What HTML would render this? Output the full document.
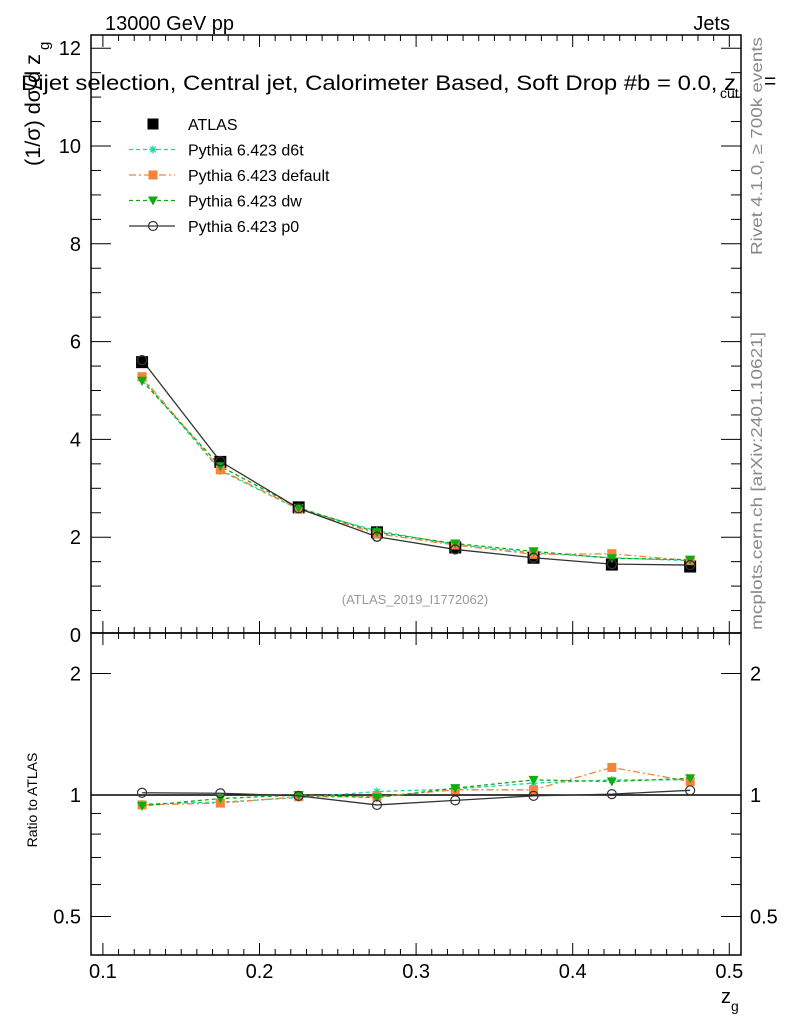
<!DOCTYPE html>
<html><head><meta charset="utf-8"><style>
html,body{margin:0;padding:0;background:#fff;}
svg{display:block;font-family:"Liberation Sans",Arial,sans-serif;}
</style></head><body>
<svg id="chart" width="786" height="1024" viewBox="0 0 786 1024" xmlns="http://www.w3.org/2000/svg">
<text x="105" y="30" font-size="20">13000 GeV pp</text>
<text x="730" y="30" font-size="20" text-anchor="end">Jets</text>
<text x="21" y="90" font-size="21" textLength="715" lengthAdjust="spacingAndGlyphs">Dijet selection, Central jet, Calorimeter Based, Soft Drop #b = 0.0, z</text>
<text x="720" y="98" font-size="14">cut</text>
<text x="764" y="88" font-size="21">=</text>
<text transform="translate(40,166) rotate(-90)" font-size="21" textLength="112" lengthAdjust="spacingAndGlyphs">(1/σ) dσ/d z</text>
<text transform="translate(49,50) rotate(-90)" font-size="15">g</text>
<text transform="translate(37,800) rotate(-90)" font-size="14" text-anchor="middle">Ratio to ATLAS</text>
<text transform="translate(762,255) rotate(-90)" font-size="16" fill="#888" textLength="218" lengthAdjust="spacingAndGlyphs">Rivet 4.1.0, ≥ 700k events</text>
<text transform="translate(762,630) rotate(-90)" font-size="16" fill="#888" textLength="298" lengthAdjust="spacingAndGlyphs">mcplots.cern.ch [arXiv:2401.10621]</text>
<text x="415" y="604" font-size="13" fill="#999" text-anchor="middle">(ATLAS_2019_I1772062)</text>
<text x="721" y="1003" font-size="20">z<tspan font-size="14" dy="8">g</tspan></text>
<g id="main"></g>
<g id="ratio"></g>
<g id="legend"></g>
</svg>
<script>
const xCenters=[0.125,0.175,0.225,0.275,0.325,0.375,0.425,0.475];
const xTicks=[0.1,0.2,0.3,0.4,0.5];
const yTicks=[0,2,4,6,8,10,12];
const rTicks=[0.5,1,2];
const atlas=[5.58,3.54,2.61,2.1,1.79,1.58,1.44,1.40];
const p0=[5.62,3.55,2.59,2.01,1.75,1.58,1.45,1.43];
const pdef=[5.28,3.38,2.58,2.07,1.84,1.65,1.66,1.52];
const pd6t=[5.25,3.36,2.57,2.13,1.85,1.68,1.58,1.52];
const pdw=[5.2,3.45,2.6,2.1,1.87,1.71,1.57,1.54];
const rp0=[1.013,1.01,0.995,0.945,0.97,0.995,1.005,1.027];
const rdef=[0.945,0.955,0.99,0.99,1.03,1.03,1.17,1.08];
const rd6t=[0.95,0.96,0.985,1.02,1.035,1.07,1.09,1.09];
const rdw=[0.94,0.98,1.0,0.985,1.04,1.09,1.08,1.1];
const legendNames=["ATLAS","Pythia 6.423 d6t","Pythia 6.423 default","Pythia 6.423 dw","Pythia 6.423 p0"];

const NS="http://www.w3.org/2000/svg";
const L=91,R=741,T=35,MB=633,RB=955;
const X=v=>102.9+(v-0.1)*1566;
const Y=v=>635-v*48.9;
const YR=v=>795-Math.log10(v)*403.6;
function mk(p,t,a){const e=document.createElementNS(NS,t);for(const k in a)e.setAttribute(k,a[k]);p.appendChild(e);return e;}
const main=document.getElementById('main'),ratio=document.getElementById('ratio'),leg=document.getElementById('legend');

function frame(g,top,bot,name){
  const r=mk(g,'rect',{x:L,y:top,width:R-L,height:bot-top,fill:'none',stroke:'#000','stroke-width':1.5});
  
  
  for(let v=0.1;v<=0.5001;v+=0.01){const x=X(v);const maj=Math.abs(v*10-Math.round(v*10))<1e-6;const len=maj?12:6;
    mk(g,'line',{x1:x,x2:x,y1:bot,y2:bot-len,stroke:'#000','stroke-width':1});
    mk(g,'line',{x1:x,x2:x,y1:top,y2:top+len,stroke:'#000','stroke-width':1});}
}
frame(main,T,MB,'main-frame');frame(ratio,MB,RB,'ratio-frame');
for(let v=0;v<=12.2;v+=0.5){const y=Y(v);if(y<T||y>MB)continue;const maj=Math.abs(v/2-Math.round(v/2))<1e-6;const len=maj?20:10;
  mk(main,'line',{x1:L,x2:L+len,y1:y,y2:y,stroke:'#000'});mk(main,'line',{x1:R,x2:R-len,y1:y,y2:y,stroke:'#000'});}
yTicks.forEach(v=>{const t=mk(main,'text',{x:81,y:Y(v)+7,'font-size':20,'text-anchor':'end'});t.textContent=v;
  
  });
[0.5,0.6,0.7,0.8,0.9,1,2].forEach(v=>{const y=YR(v);const maj=rTicks.includes(v);const len=maj?20:10;
  mk(ratio,'line',{x1:L,x2:L+len,y1:y,y2:y,stroke:'#000'});mk(ratio,'line',{x1:R,x2:R-len,y1:y,y2:y,stroke:'#000'});});
rTicks.forEach(v=>{const t=mk(ratio,'text',{x:81,y:YR(v)+7,'font-size':20,'text-anchor':'end'});t.textContent=v;
  
  
  const t2=mk(ratio,'text',{x:750,y:YR(v)+7,'font-size':20});t2.textContent=v;
  
  });
xTicks.forEach(v=>{const t=mk(ratio,'text',{x:X(v),y:978,'font-size':20,'text-anchor':'middle'});t.textContent=v.toFixed(1);
  
  });
mk(ratio,'line',{x1:L,x2:R,y1:YR(1),y2:YR(1),stroke:'#000','stroke-width':1.5});

function marker(g,type,x,y,col){
  if(type==='sq')mk(g,'rect',{x:x-5.5,y:y-5.5,width:11,height:11,fill:col});
  else if(type==='osq')mk(g,'rect',{x:x-4.5,y:y-4.5,width:9,height:9,fill:col});
  else if(type==='tri')mk(g,'path',{d:`M${x-5},${y-4}L${x+5},${y-4}L${x},${y+5}Z`,fill:col});
  else if(type==='circ')mk(g,'circle',{cx:x,cy:y,r:4.5,fill:'none',stroke:col,'stroke-width':1.2});
  else if(type==='star'){for(let a=0;a<4;a++){const an=a*Math.PI/4;mk(g,'line',{x1:x-4*Math.cos(an),y1:y-4*Math.sin(an),x2:x+4*Math.cos(an),y2:y+4*Math.sin(an),stroke:col,'stroke-width':1.3});}}
}
const series=[
 {n:'d6t',m:pd6t,r:rd6t,c:'#1ad8a0',dash:'4,3',mk:'star'},
 {n:'default',m:pdef,r:rdef,c:'#f5843a',dash:'7,3,2,3',mk:'osq'},
 {n:'dw',m:pdw,r:rdw,c:'#11aa11',dash:'4,3',mk:'tri'},
 {n:'p0',m:p0,r:rp0,c:'#333',dash:'',mk:'circ'}];
series.forEach(s=>{
  [[main,s.m,Y],[ratio,s.r,YR]].forEach(([g,vals,fy])=>{
    const pl=mk(g,'polyline',{points:xCenters.map((x,i)=>X(x)+','+fy(vals[i])).join(' '),fill:'none',stroke:s.c,'stroke-width':1.3,'stroke-dasharray':s.dash});
    
    
    xCenters.forEach((x,i)=>marker(g,s.mk,X(x),fy(vals[i]),s.c));
  });
});
xCenters.forEach((x,i)=>{const r=mk(main,'rect',{x:X(x)-6,y:Y(atlas[i])-6,width:12,height:12,fill:'#000'});
  
  });
series.forEach(s=>xCenters.forEach((x,i)=>marker(main,s.mk,X(x),Y(s.m[i]),s.c)));
xCenters.forEach((x,i)=>marker(main,'circ',X(x),Y(p0[i]),'#333'));

const legSpec=[{mk:'sq',c:'#000',dash:null},{mk:'star',c:'#1ad8a0',dash:'4,3'},{mk:'osq',c:'#f5843a',dash:'7,3,2,3'},{mk:'tri',c:'#11aa11',dash:'4,3'},{mk:'circ',c:'#333',dash:''}];
legendNames.forEach((nm,i)=>{const y=124+i*25.5;const s=legSpec[i];
  if(s.dash!==null)mk(leg,'line',{x1:129,x2:175,y1:y,y2:y,stroke:s.c,'stroke-width':1.3,'stroke-dasharray':s.dash});
  marker(leg,s.mk,153,y,s.c);
  const t=mk(leg,'text',{x:188,y:y+6,'font-size':16});t.textContent=nm;
  
  });
</script>
</body></html>
